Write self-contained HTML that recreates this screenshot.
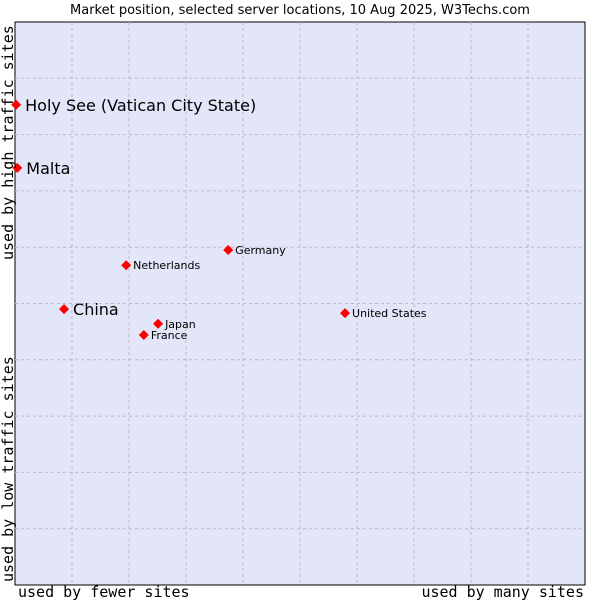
<!DOCTYPE html>
<html><head><meta charset="utf-8"><style>
body{margin:0;background:#fff;}
svg text{font-family:"DejaVu Sans","Liberation Sans",sans-serif;fill:#000;}
.mono{font-family:"DejaVu Sans Mono","Liberation Mono",monospace;}
</style></head><body>
<svg id="chart" width="600" height="600" viewBox="0 0 600 600" xmlns="http://www.w3.org/2000/svg">
<text x="300" y="14" text-anchor="middle" font-size="13">Market position, selected server locations, 10 Aug 2025, W3Techs.com</text>
<rect x="15" y="22" width="570" height="563" fill="#e3e5f8" stroke="#000" stroke-width="1"/>
<g id="grid"></g>
<g id="marks"></g>
<text class="mono" x="18" y="597" font-size="15">used by fewer sites</text>
<text class="mono" x="584" y="597" font-size="15" text-anchor="end">used by many sites</text>
<text class="mono" transform="translate(13,260) rotate(-90)" font-size="15">used by high traffic sites</text>
<text class="mono" transform="translate(13,582) rotate(-90)" font-size="15">used by low traffic sites</text>
</svg>
<script>
const countries=["Holy See (Vatican City State)","Malta","China","Netherlands","Germany","Japan","France","United States"];
const xValues=[0.2,0.4,8.6,19.5,37.4,25.1,22.6,57.9];
const yValues=[85.3,74.1,49.0,56.8,59.5,46.4,44.4,48.3];
const bigLabel=[true,true,true,false,false,false,false,false];
const L=15,T=22,W=570,H=563;
function sx(v){return L+v/100*W;}
function sy(v){return T+H-v/100*H;}
const NS="http://www.w3.org/2000/svg";
const grid=document.getElementById('grid');
for(let i=1;i<10;i++){
 let l=document.createElementNS(NS,'line');
 
 
 l.setAttribute('x1',L+i*W/10);l.setAttribute('x2',L+i*W/10);l.setAttribute('y1',T);l.setAttribute('y2',T+H);
 l.setAttribute('stroke','#bbb');l.setAttribute('stroke-dasharray','3,3');grid.appendChild(l);
 let h=document.createElementNS(NS,'line');
 
 
 h.setAttribute('x1',L);h.setAttribute('x2',L+W);h.setAttribute('y1',T+i*H/10);h.setAttribute('y2',T+i*H/10);
 h.setAttribute('stroke','#bbb');h.setAttribute('stroke-dasharray','3,3');grid.appendChild(h);
}
const marks=document.getElementById('marks');
countries.forEach((c,i)=>{
 const x=sx(xValues[i]),y=sy(yValues[i]);
 const p=document.createElementNS(NS,'polygon');
 
 
 p.setAttribute('points',`${x},${y-5} ${x+5},${y} ${x},${y+5} ${x-5},${y}`);
 p.setAttribute('fill','#f00');marks.appendChild(p);
 const t=document.createElementNS(NS,'text');
 
 
 const big=bigLabel[i];
 t.setAttribute('x',x+(big?9:7));t.setAttribute('y',y+(big?6:4));
 t.setAttribute('font-size',big?16:11);
 t.textContent=c;marks.appendChild(t);
});
</script>
</body></html>
